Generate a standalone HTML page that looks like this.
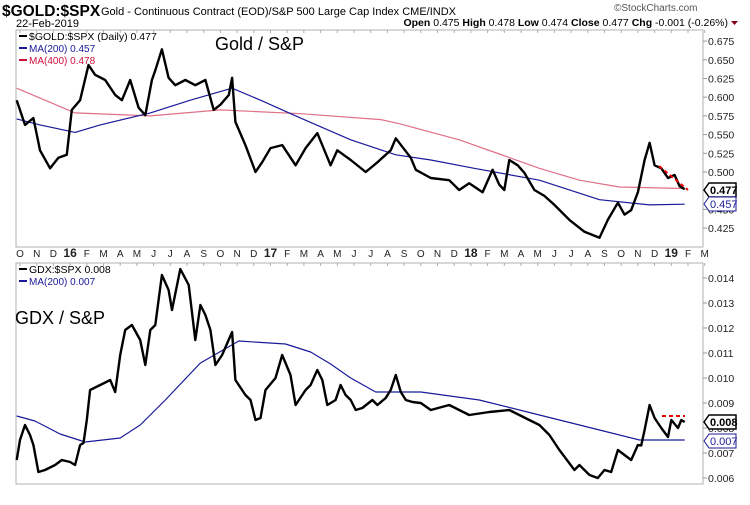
<!DOCTYPE html>
<html><head><meta charset="utf-8"><style>
body{margin:0;background:#fff;font-family:"Liberation Sans",sans-serif}
svg text{font-family:"Liberation Sans",sans-serif}
</style></head><body>
<svg id="c" width="750" height="500" xmlns="http://www.w3.org/2000/svg">
<text x="2" y="16" font-size="15.5" font-weight="bold">$GOLD:$SPX</text>
<text x="101" y="15" font-size="11">Gold - Continuous Contract (EOD)/S&amp;P 500 Large Cap Index CME/INDX</text>
<text x="16" y="27" font-size="11">22-Feb-2019</text>
<text x="614" y="11" font-size="10" fill="#555">©StockCharts.com</text>
<text x="728" y="26" font-size="10.5" text-anchor="end"><tspan font-weight="bold">Open</tspan> 0.475 <tspan font-weight="bold">High</tspan> 0.478 <tspan font-weight="bold">Low</tspan> 0.474 <tspan font-weight="bold">Close</tspan> 0.477 <tspan font-weight="bold">Chg</tspan> -0.001 (-0.26%)</text>
<path d="M731 21 l7 0 l-3.5 4z" fill="#800020"/>
<g id="topPanel"></g><g id="botPanel"></g><g id="xax"></g>
</svg>
<script>
// ---- data (t = months since Oct 2015) ----
const goldT=[-0.2,0.3,0.8,1.2,1.8,2.3,2.8,3.1,3.6,4.1,4.5,5.1,5.7,6.1,6.6,7.1,7.5,7.9,8.1,8.5,8.9,9.3,9.9,10.5,11.1,11.6,12.0,12.5,12.7,12.9,13.5,14.1,14.5,15.0,15.7,16.5,17.1,17.8,18.6,19.0,19.8,20.7,21.4,22.2,22.5,23.4,23.7,24.6,25.7,26.3,26.9,27.7,28.3,28.7,29.0,29.3,29.8,30.2,30.8,31.4,32.0,32.9,33.8,34.7,35.2,35.8,36.2,36.6,37.0,37.4,37.7,38.0,38.4,38.8,39.2,39.5,39.8];
const goldV=[0.596,0.563,0.572,0.529,0.505,0.519,0.523,0.583,0.596,0.643,0.630,0.623,0.603,0.596,0.623,0.586,0.576,0.623,0.636,0.664,0.626,0.616,0.623,0.616,0.623,0.583,0.590,0.603,0.626,0.567,0.536,0.500,0.513,0.532,0.536,0.509,0.532,0.552,0.509,0.529,0.516,0.500,0.513,0.529,0.545,0.519,0.503,0.492,0.489,0.476,0.485,0.473,0.503,0.483,0.476,0.516,0.509,0.499,0.476,0.468,0.456,0.436,0.420,0.412,0.436,0.459,0.443,0.449,0.473,0.516,0.539,0.509,0.505,0.492,0.496,0.481,0.477];
const ma200T=[-0.2,1.2,3.3,4.8,7.8,10.2,12.7,14.4,16.8,19.8,22.5,24.6,27.2,31.1,34.7,37.7,39.8];
const ma200V=[0.571,0.563,0.553,0.563,0.579,0.596,0.612,0.596,0.572,0.543,0.523,0.516,0.505,0.489,0.463,0.456,0.457];
const ma400T=[-0.2,3.3,7.8,12.0,16.8,21.6,22.8,26.3,28.7,31.1,33.5,35.9,39.8];
const ma400V=[0.612,0.579,0.575,0.583,0.578,0.570,0.564,0.543,0.524,0.505,0.489,0.480,0.478];
const gdxT=[-0.2,0,0.3,0.6,0.8,1.1,1.5,2.1,2.5,3.0,3.3,3.6,3.8,4.0,4.2,4.8,5.4,5.7,6.0,6.3,6.7,7.2,7.5,7.8,8.1,8.5,8.9,9.1,9.6,10.1,10.5,10.8,11.1,11.4,11.7,12.1,12.7,12.9,13.5,13.8,14.1,14.4,14.7,15.3,15.7,16.2,16.5,17.1,17.4,17.8,18.1,18.4,18.9,19.2,19.5,19.8,20.1,20.5,21.1,21.4,21.9,22.2,22.5,22.8,23.1,23.5,24.0,24.6,25.7,26.9,28.1,29.3,29.9,30.5,31.1,31.7,32.3,33.2,33.5,34.1,34.6,35.0,35.4,35.8,36.2,36.6,37.0,37.2,37.4,37.7,38.0,38.4,38.8,39.0,39.4,39.6,39.8];
const gdxV=[0.00672,0.00752,0.00812,0.00772,0.00732,0.00624,0.00632,0.00652,0.00672,0.00664,0.00652,0.00732,0.0074,0.00832,0.00952,0.00972,0.00992,0.00944,0.01092,0.01192,0.01212,0.01152,0.01052,0.01192,0.01212,0.01412,0.01352,0.01272,0.01436,0.01372,0.01152,0.01292,0.01252,0.01192,0.01052,0.01092,0.01184,0.00992,0.00932,0.00912,0.00832,0.0084,0.00952,0.01,0.01092,0.01012,0.00892,0.00952,0.00972,0.01032,0.00992,0.00892,0.00912,0.00972,0.00932,0.00912,0.00872,0.0088,0.00912,0.00892,0.0092,0.00952,0.01012,0.00944,0.00912,0.00904,0.009,0.00872,0.00892,0.00852,0.00864,0.00872,0.00852,0.00832,0.00812,0.00772,0.00712,0.00632,0.00652,0.00612,0.006,0.00632,0.00624,0.00712,0.00692,0.00672,0.00732,0.0073,0.00792,0.00892,0.0084,0.008,0.00764,0.00832,0.008,0.00832,0.00824];
const gdxMaT=[-0.2,0.9,2.4,3.9,6.0,7.2,8.7,10.8,13.1,15.9,17.4,18.6,19.8,21.3,24.0,27.5,31.1,34.7,37.1,39.8];
const gdxMaV=[0.00848,0.00828,0.00776,0.00744,0.0076,0.00812,0.00912,0.0106,0.01148,0.01136,0.01104,0.01056,0.01,0.00944,0.00944,0.00912,0.00852,0.00792,0.00752,0.00752];
const topTicks=[0.425,0.45,0.475,0.5,0.525,0.55,0.575,0.6,0.625,0.65,0.675];
const botTicks=[0.006,0.007,0.008,0.009,0.010,0.011,0.012,0.013,0.014];
const monthLabels=["O","N","D","16","F","M","A","M","J","J","A","S","O","N","D","17","F","M","A","M","J","J","A","S","O","N","D","18","F","M","A","M","J","J","A","S","O","N","D","19","F","M"];
// ---- axes ----
const NS="http://www.w3.org/2000/svg";
const X=t=>20+t*16.7;
const YT=v=>172-(v-0.5)/0.025*18.7;
const YB=v=>278+(0.014-v)/0.001*25;
function el(tag,attrs,parent){const e=document.createElementNS(NS,tag);for(const k in attrs)e.setAttribute(k,attrs[k]);parent.appendChild(e);return e;}
const gTop=document.getElementById('topPanel'),gBot=document.getElementById('botPanel'),xax=document.getElementById('xax');
function panel(g,y0,y1,name){const r=el('rect',{x:16,y:y0,width:687,height:y1-y0,fill:'none',stroke:'#b0b0b0'},g);


monthLabels.forEach((m,i)=>{const l=el('line',{x1:X(i),x2:X(i),y1:y0,y2:y0+3,stroke:'#b0b0b0'},g);

});}
panel(gTop,30,247,'top-panel-frame');panel(gBot,263,484,'bottom-panel-frame');
function yaxis(g,ticks,Y,fmt,name){ticks.forEach(v=>{const y=Y(v);
const l=el('line',{x1:703,x2:707,y1:y,y2:y,stroke:'#999'},g);


const t=el('text',{x:708,y:y+4,'font-size':10.5,fill:'#222'},g);t.textContent=v.toFixed(fmt);

});}
yaxis(gTop,topTicks,YT,3,'top-y-axis');yaxis(gBot,botTicks,YB,3,'bottom-y-axis');
monthLabels.forEach((m,i)=>{const t=el('text',{x:X(i),y:257,'font-size':/\d/.test(m)?12:10,'font-weight':/\d/.test(m)?'bold':'normal','text-anchor':'middle',fill:'#222'},xax);t.textContent=m;

});
function line(g,T,V,Y,color,w,name){const d=T.map((t,i)=>(i?'L':'M')+X(t).toFixed(1)+' '+Y(V[i]).toFixed(1)).join(' ');
const p=el('path',{d:d,fill:'none',stroke:color,'stroke-width':w,'stroke-linejoin':'round'},g);

}
line(gTop,ma400T,ma400V,YT,'#e07088',1.2,'ma400-line');
line(gTop,ma200T,ma200V,YT,'#1a1a9a',1.2,'ma200-line');
line(gTop,goldT,goldV,YT,'#000',2.4,'gold-spx-line');
line(gBot,gdxMaT,gdxMaV,YB,'#1a1a9a',1.2,'gdx-ma200-line');
line(gBot,gdxT,gdxV,YB,'#000',2.4,'gdx-spx-line');
// annotations
const a1=el('line',{x1:659,y1:166,x2:688,y2:190,stroke:'#e00',"stroke-width":2,"stroke-dasharray":"4 3"},gTop);


const a2=el('line',{x1:662,y1:416,x2:685,y2:416,stroke:'#e00',"stroke-width":2,"stroke-dasharray":"4 3"},gBot);


function tag(g,y,txt,color,bold,name){const p=el('path',{d:`M704 ${y} l5 -7 h27 v14 h-27z`,fill:'#fff',stroke:color,'stroke-width':bold?1.5:1},g);


const t=el('text',{x:710,y:y+4,'font-size':11,'font-weight':bold?'bold':'normal',fill:bold?'#000':'#1a1a9a'},g);t.textContent=txt;

}
tag(gTop,190,'0.477','#000',true,'gold-last-value-tag');
tag(gTop,204,'0.457','#1a1a9a',false,'ma200-last-value-tag');
tag(gBot,422,'0.008','#000',true,'gdx-last-value-tag');
tag(gBot,441,'0.007','#1a1a9a',false,'gdx-ma-last-value-tag');
// legends
function leg(g,y,color,txt,name,fs){const l=el('line',{x1:19,x2:27,y1:y-4,y2:y-4,stroke:color,'stroke-width':2},g);


const t=el('text',{x:29,y:y,'font-size':fs,fill:color},g);t.textContent=txt;

}
leg(gTop,40,'#000','$GOLD:$SPX (Daily) 0.477','legend-gold',10.5);
leg(gTop,52,'#1a1a9a','MA(200) 0.457','legend-ma200',10);
leg(gTop,64,'#d0103a','MA(400) 0.478','legend-ma400',10);
leg(gBot,273,'#000','GDX:$SPX 0.008','legend-gdx',10.5);
leg(gBot,285,'#1a1a9a','MA(200) 0.007','legend-gdx-ma200',10);
const t1=el('text',{x:215,y:50,'font-size':18},gTop);t1.textContent='Gold / S&P';


const t2=el('text',{x:15,y:324,'font-size':18},gBot);t2.textContent='GDX / S&P';


</script>
</body></html>
